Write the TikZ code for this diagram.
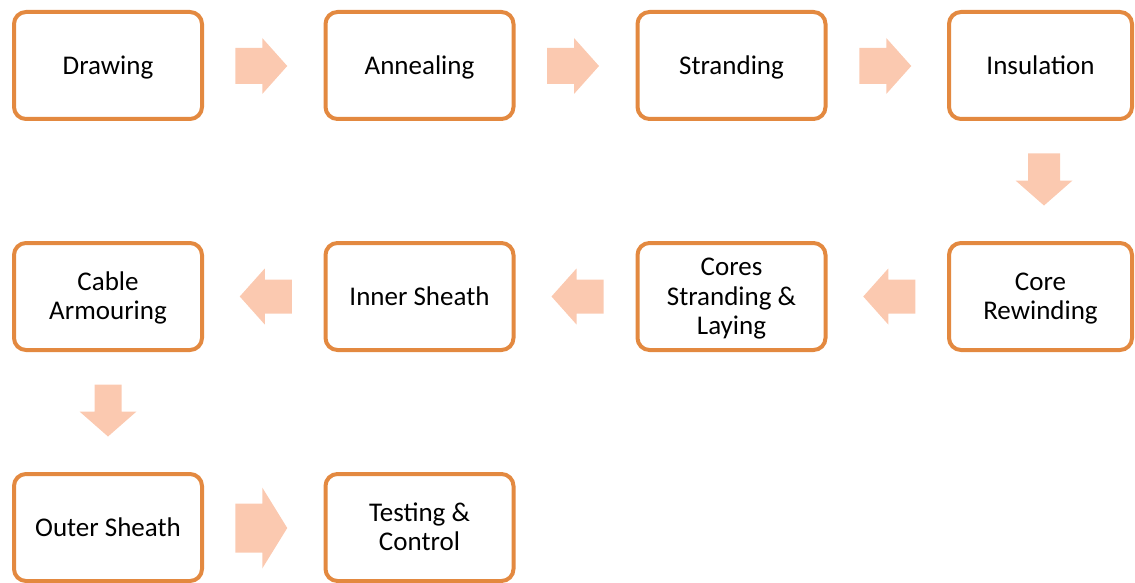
\documentclass[tikz,border=0pt]{standalone}
\usepackage{fontspec}
\setmainfont{Carlito}
\usetikzlibrary{calc}
\definecolor{boxorange}{RGB}{227,137,64}
\definecolor{arrowpeach}{RGB}{251,201,176}
\tikzset{
  stepbox/.style={draw=boxorange, line width=4pt, fill=white, rounded corners=12pt,
    minimum width=188pt, minimum height=107pt, align=center, inner sep=0pt,
    font=\fontsize{27}{29.5}\selectfont, text depth=0pt, text height=17.4pt},
  twolines/.style={text height=46.9pt},
  threelines/.style={text height=76.4pt},
  pics/blockarrow/.style args={#1/#2}{code={
    \fill[arrowpeach] (-26,-#1) -- (1,-#1) -- (1,-#2) -- (26,0) -- (1,#2) -- (1,#1) -- (-26,#1) -- cycle;}},
}
\begin{document}
\begin{tikzpicture}[x=1pt,y=-1pt]
\useasboundingbox (0,0) rectangle (1135,583);
% row 1
\node[stepbox] (n1) at (108,65.5) {Drawing};
\node[stepbox] (n2) at (419.5,65.5) {Annealing};
\node[stepbox] (n3) at (731.5,65.5) {Stranding};
\node[stepbox, minimum width=183pt] (n4) at (1040.5,65.5) {Insulation};
% row 2
\node[stepbox, twolines] (n5) at (108,296.5) {Cable\\Armouring};
\node[stepbox] (n6) at (419.5,296.5) {Inner Sheath};
\node[stepbox, threelines] (n7) at (731.5,296.5) {Cores\\Stranding \&\\Laying};
\node[stepbox, twolines, minimum width=183pt] (n8) at (1040.5,296.5) {Core\\Rewinding};
% row 3
\node[stepbox] (n9) at (108,527.5) {Outer Sheath};
\node[stepbox, twolines] (n10) at (419.5,527.5) {Testing \&\\Control};
% arrows
\pic at ($(n1.east)!0.5!(n2.west)+(-2.5,0.5)$) {blockarrow={18/28}};
\pic at ($(n2.east)!0.5!(n3.west)+(-2.5,0.5)$) {blockarrow={18/28}};
\pic at ($(n3.east)!0.5!(n4.west)+(-2,0.5)$) {blockarrow={18/28}};
\pic[rotate=-90] at ($(n4.south)!0.5!(n8.north)+(3.5,-1.5)$) {blockarrow={16/28.5}};
\pic[rotate=180] at ($(n8.west)!0.5!(n7.east)+(2,0)$) {blockarrow={17/28}};
\pic[rotate=180] at ($(n7.west)!0.5!(n6.east)+(2,0)$) {blockarrow={17/28}};
\pic[rotate=180] at ($(n6.west)!0.5!(n5.east)+(2,0)$) {blockarrow={17/28}};
\pic[rotate=-90] at ($(n5.south)!0.5!(n9.north)+(0,-1.5)$) {blockarrow={13.5/28.5}};
\pic at ($(n9.east)!0.5!(n10.west)+(-2.5,0.5)$) {blockarrow={24.5/40.5}};
\end{tikzpicture}
\end{document}
